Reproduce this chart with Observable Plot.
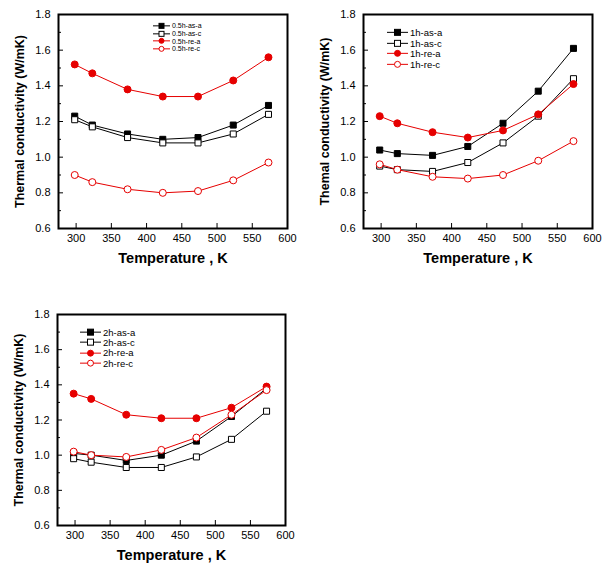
<!DOCTYPE html>
<html><head><meta charset="utf-8">
<script src="https://cdn.jsdelivr.net/npm/d3@7"></script>
<script src="https://cdn.jsdelivr.net/npm/@observablehq/plot@0.6"></script>
<style>
body{margin:0;background:#fff;}
#wrap{position:relative;width:611px;height:574px;font-family:"Liberation Sans",Arial,sans-serif;background:#fff;}
.panel{position:absolute;}
.legend{position:absolute;color:#000;}
.legend .row{display:flex;align-items:center;white-space:nowrap;}
.legend svg{display:block;margin-right:2px;}
</style></head><body><div id="wrap"></div>
<script>
// ---- data ----
const temps = [298, 323, 373, 423, 473, 523, 573];
const xTicks = [300, 350, 400, 450, 500, 550, 600];
const yTicks = [0.6, 0.8, 1.0, 1.2, 1.4, 1.6, 1.8];
const yMinor = [0.7, 0.9, 1.1, 1.3, 1.5, 1.7];
const xLabel = ["Temperature , K"];
const yLabel1 = ["Thermal conductivity (W/mK)"];
const yLabel2 = ["Themal conductivity (W/mK)"];
const yLabel3 = ["Thermal conductivity (W/mK)"];

const names05 = ["0.5h-as-a", "0.5h-as-c", "0.5h-re-a", "0.5h-re-c"];
const v05_as_a = [1.23, 1.18, 1.13, 1.10, 1.11, 1.18, 1.29];
const v05_as_c = [1.21, 1.17, 1.11, 1.08, 1.08, 1.13, 1.24];
const v05_re_a = [1.52, 1.47, 1.38, 1.34, 1.34, 1.43, 1.56];
const v05_re_c = [0.90, 0.86, 0.82, 0.80, 0.81, 0.87, 0.97];

const names1 = ["1h-as-a", "1h-as-c", "1h-re-a", "1h-re-c"];
const v1_as_a = [1.04, 1.02, 1.01, 1.06, 1.19, 1.37, 1.61];
const v1_as_c = [0.95, 0.93, 0.92, 0.97, 1.08, 1.23, 1.44];
const v1_re_a = [1.23, 1.19, 1.14, 1.11, 1.15, 1.24, 1.41];
const v1_re_c = [0.96, 0.93, 0.89, 0.88, 0.90, 0.98, 1.09];

const names2 = ["2h-as-a", "2h-as-c", "2h-re-a", "2h-re-c"];
const v2_as_a = [1.01, 1.00, 0.97, 1.00, 1.08, 1.22, 1.38];
const v2_as_c = [0.98, 0.96, 0.93, 0.93, 0.99, 1.09, 1.25];
const v2_re_a = [1.35, 1.32, 1.23, 1.21, 1.21, 1.27, 1.39];
const v2_re_c = [1.02, 1.00, 0.99, 1.03, 1.10, 1.23, 1.37];

// ---- styles ----
const RED = "#e60000";
const styles = [
  {color: "black", symbol: "square", filled: true},
  {color: "black", symbol: "square", filled: false},
  {color: RED, symbol: "circle", filled: true},
  {color: RED, symbol: "circle", filled: false}
];

function makeSeries(names, vals) {
  return names.map((n, i) => ({name: n, values: vals[i], ...styles[i]}));
}

function panel(cfg) {
  const W = 305, H = 280;
  const {mL, mR, mT, mB} = cfg;
  const pw = W - mL - mR, ph = H - mT - mB;
  const marks = [
    Plot.tickY(yTicks, {y: d => d, insetRight: pw - 5, strokeWidth: 1}),
    Plot.tickY(yMinor, {y: d => d, insetRight: pw - 3, strokeWidth: 1}),
    Plot.tickX(xTicks, {x: d => d, insetTop: ph - 5, strokeWidth: 1}),
    Plot.axisY(yTicks, {tickSize: 0, tickPadding: 8, tickFormat: d3.format(".1f"), label: null, fontSize: 11}),
    Plot.axisX(xTicks, {tickSize: 0, tickPadding: 6, tickFormat: d => d, label: null, fontSize: 11}),
    Plot.text(xLabel, {text: d => d, frameAnchor: "bottom", textAnchor: "middle", dy: 34, fontWeight: "bold", fontSize: 14.5}),
    Plot.text(cfg.yLabel, {text: d => d, frameAnchor: "left", textAnchor: "middle", rotate: -90, dx: -39, fontWeight: "bold", fontSize: 12.5})
  ];
  for (const s of cfg.series) {
    const rows = temps.map((t, i) => ({T: t, k: s.values[i]}));
    marks.push(Plot.line(rows, {x: "T", y: "k", stroke: s.color, strokeWidth: 1}));
  }
  for (const s of cfg.series) {
    const rows = temps.map((t, i) => ({T: t, k: s.values[i]}));
    marks.push(Plot.dot(rows, {x: "T", y: "k", symbol: s.symbol, r: s.symbol === "square" ? 3.4 : 3.5,
      fill: s.filled ? s.color : "white", stroke: s.color, strokeWidth: 1}));
  }
  marks.push(Plot.frame({stroke: "black", strokeWidth: 2}));
  const svg = Plot.plot({
    width: W, height: H, marginLeft: mL, marginRight: mR, marginTop: mT, marginBottom: mB,
    x: {domain: [275, 600]}, y: {domain: [0.6, 1.8]},
    style: {fontFamily: '"Liberation Sans", Arial, sans-serif', color: "black", background: "white", overflow: "visible"},
    marks
  });
  svg.classList.add("panel");
  svg.style.left = cfg.left + "px";
  svg.style.top = cfg.top + "px";
  return svg;
}

function legend(cfg) {
  const div = document.createElement("div");
  div.className = "legend";
  div.style.left = cfg.left + "px";
  div.style.top = cfg.top + "px";
  div.style.fontSize = cfg.fontSize + "px";
  for (const s of cfg.series) {
    const row = document.createElement("div");
    row.className = "row";
    row.style.height = cfg.rowH + "px";
    const w = cfg.lineW, h = cfg.rowH, sz = cfg.marker;
    const fill = s.filled ? s.color : "white";
    const m = s.symbol === "square"
      ? `<rect x="${w/2 - sz/2}" y="${h/2 - sz/2}" width="${sz}" height="${sz}" fill="${fill}" stroke="${s.color}"/>`
      : `<circle cx="${w/2}" cy="${h/2}" r="${sz/2}" fill="${fill}" stroke="${s.color}"/>`;
    row.innerHTML = `<svg width="${w}" height="${h}"><line x1="0" x2="${w}" y1="${h/2}" y2="${h/2}" stroke="${s.color}"/>${m}</svg><span>${s.name}</span>`;
    div.appendChild(row);
  }
  return div;
}

const wrap = document.getElementById("wrap");
const s05 = makeSeries(names05, [v05_as_a, v05_as_c, v05_re_a, v05_re_c]);
const s1 = makeSeries(names1, [v1_as_a, v1_as_c, v1_re_a, v1_re_c]);
const s2 = makeSeries(names2, [v2_as_a, v2_as_c, v2_re_a, v2_re_c]);

wrap.appendChild(panel({left: 0, top: 0, mL: 58, mR: 18, mT: 14, mB: 52, series: s05, yLabel: yLabel1}));
wrap.appendChild(panel({left: 305, top: 0, mL: 58, mR: 18, mT: 14, mB: 52, series: s1, yLabel: yLabel2}));
wrap.appendChild(panel({left: 0, top: 300, mL: 57, mR: 20, mT: 14, mB: 55, series: s2, yLabel: yLabel3}));

wrap.appendChild(legend({left: 153, top: 22, fontSize: 7, rowH: 7.7, lineW: 17, marker: 5, series: s05}));
wrap.appendChild(legend({left: 387, top: 27, fontSize: 9.5, rowH: 10.7, lineW: 21, marker: 6, series: s1}));
wrap.appendChild(legend({left: 80, top: 327, fontSize: 9.5, rowH: 10.3, lineW: 21, marker: 6, series: s2}));
</script></body></html>
